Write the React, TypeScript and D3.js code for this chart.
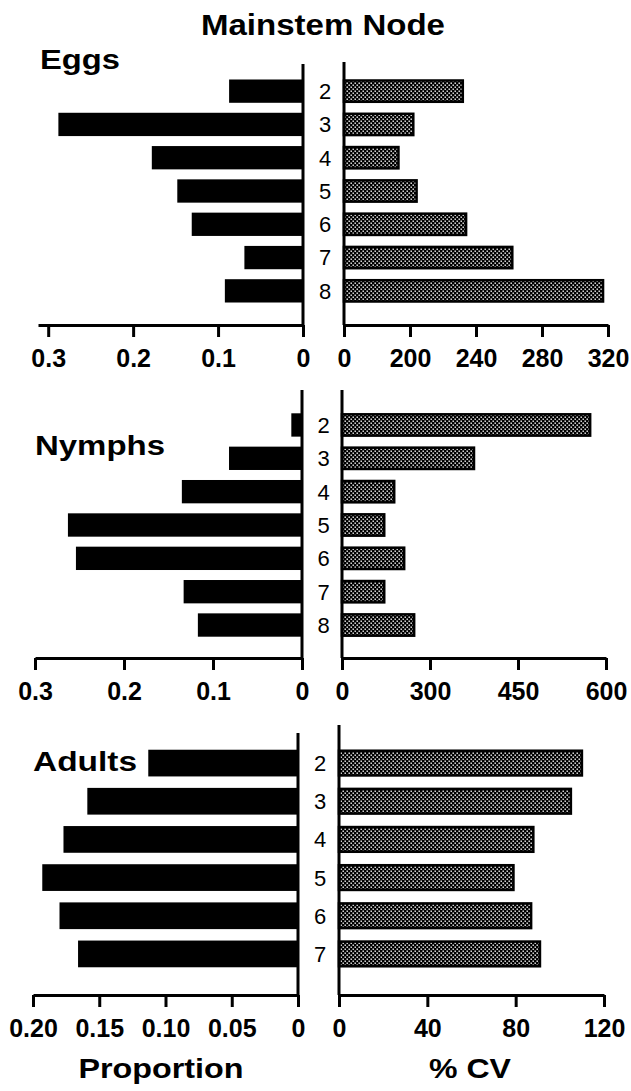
import React, { useEffect, useRef } from 'react';
import * as d3 from 'd3';

// mainstem nodes per stage
const eggNodes = ['2', '3', '4', '5', '6', '7', '8'];
const nymphNodes = ['2', '3', '4', '5', '6', '7', '8'];
const adultNodes = ['2', '3', '4', '5', '6', '7'];

// proportion (black bars, left side)
const eggProportion = [0.087, 0.288, 0.178, 0.148, 0.131, 0.069, 0.092];
const nymphProportion = [0.012, 0.082, 0.135, 0.263, 0.254, 0.133, 0.117];
const adultProportion = [0.113, 0.159, 0.177, 0.193, 0.18, 0.166];

// % CV (dotted bars, right side)
const eggCV = [232, 202, 193, 204, 234, 262, 317];
const nymphCV = [573, 375, 239, 222, 256, 222, 273];
const adultCV = [110, 105, 88, 79, 87, 91];

// tick values + labels (the CV axes for eggs and nymphs are broken, first tick reads 0)
const eggPropTicks = [0, 0.1, 0.2, 0.3];
const eggPropLabels = ['0', '0.1', '0.2', '0.3'];
const nymphPropTicks = [0, 0.1, 0.2, 0.3];
const nymphPropLabels = ['0', '0.1', '0.2', '0.3'];
const adultPropTicks = [0, 0.05, 0.1, 0.15, 0.2];
const adultPropLabels = ['0', '0.05', '0.10', '0.15', '0.20'];

const eggCVTicks = [160, 200, 240, 280, 320];
const eggCVLabels = ['0', '200', '240', '280', '320'];
const nymphCVTicks = [150, 300, 450, 600];
const nymphCVLabels = ['0', '300', '450', '600'];
const adultCVTicks = [0, 40, 80, 120];
const adultCVLabels = ['0', '40', '80', '120'];

const FONT = "'Liberation Sans', Arial, Helvetica, sans-serif";

const panels = [
  {
    name: 'Eggs', nodes: eggNodes, prop: eggProportion, cv: eggCV,
    propDomain: [0, 0.312], cvDomain: [160, 320],
    propTicks: eggPropTicks, propLabels: eggPropLabels, cvTicks: eggCVTicks, cvLabels: eggCVLabels,
    leftRange: [303, 38], rightRange: [344, 608],
    leftTop: 64, rightTop: 62, axisY: 325, band: [74.5, 307.5],
    title: { x: 40, y: 69, w: 80 },
  },
  {
    name: 'Nymphs', nodes: nymphNodes, prop: nymphProportion, cv: nymphCV,
    propDomain: [0, 0.3], cvDomain: [150, 600],
    propTicks: nymphPropTicks, propLabels: nymphPropLabels, cvTicks: nymphCVTicks, cvLabels: nymphCVLabels,
    leftRange: [302, 35], rightRange: [342, 606],
    leftTop: 390, rightTop: 390, axisY: 658, band: [408.3, 641.7],
    title: { x: 35, y: 455, w: 130 },
  },
  {
    name: 'Adults', nodes: adultNodes, prop: adultProportion, cv: adultCV,
    propDomain: [0, 0.2], cvDomain: [0, 120],
    propTicks: adultPropTicks, propLabels: adultPropLabels, cvTicks: adultCVTicks, cvLabels: adultCVLabels,
    leftRange: [298, 33], rightRange: [339, 604],
    leftTop: 733, rightTop: 725, axisY: 995, band: [744, 973],
    title: { x: 33, y: 771, w: 104 },
  },
];

const App = () => {
  const svgRef = useRef(null);

  useEffect(() => {
    const svg = d3.select(svgRef.current);
    svg.selectAll('*').remove();

    const pat = svg.append('defs').append('pattern')
      .attr('id', 'dots')
      .attr('width', 4)
      .attr('height', 4)
      .attr('patternUnits', 'userSpaceOnUse');
    pat.append('rect').attr('width', 4).attr('height', 4).attr('fill', '#000');
    pat.append('rect').attr('x', 0.5).attr('y', 0.5).attr('width', 1.4).attr('height', 1.4).attr('fill', '#fff');
    pat.append('rect').attr('x', 2.5).attr('y', 2.5).attr('width', 1.4).attr('height', 1.4).attr('fill', '#fff');

    svg.append('text')
      .attr('x', 323).attr('y', 35)
      .attr('text-anchor', 'middle')
      .attr('font-family', FONT).attr('font-weight', 'bold').attr('font-size', 30)
      .attr('textLength', 244).attr('lengthAdjust', 'spacingAndGlyphs')
      .text('Mainstem Node');

    panels.forEach((p) => {
      const g = svg.append('g');
      const y = d3.scaleBand()
        .domain(p.nodes)
        .range(p.band)
        .paddingInner(0.3)
        .paddingOuter(0.15);
      const xl = d3.scaleLinear().domain(p.propDomain).range(p.leftRange);
      const xr = d3.scaleLinear().domain(p.cvDomain).range(p.rightRange);
      const x0 = xr(p.cvDomain[0]);

      g.selectAll('.prop')
        .data(p.prop)
        .join('rect')
        .attr('class', 'prop')
        .attr('x', (d) => xl(d))
        .attr('y', (d, i) => y(p.nodes[i]))
        .attr('width', (d) => xl(0) - xl(d))
        .attr('height', y.bandwidth())
        .attr('fill', '#000');

      g.selectAll('.cv')
        .data(p.cv)
        .join('rect')
        .attr('class', 'cv')
        .attr('x', x0)
        .attr('y', (d, i) => y(p.nodes[i]) + 1)
        .attr('width', (d) => xr(d) - x0)
        .attr('height', y.bandwidth() - 2)
        .attr('fill', 'url(#dots)')
        .attr('stroke', '#000')
        .attr('stroke-width', 2.5);

      // vertical axes
      g.append('line')
        .attr('x1', xl(0)).attr('x2', xl(0))
        .attr('y1', p.leftTop).attr('y2', p.axisY)
        .attr('stroke', '#000').attr('stroke-width', 3);
      g.append('line')
        .attr('x1', x0).attr('x2', x0)
        .attr('y1', p.rightTop).attr('y2', p.axisY)
        .attr('stroke', '#000').attr('stroke-width', 3);

      // node labels between the two halves
      g.selectAll('.node')
        .data(p.nodes)
        .join('text')
        .attr('class', 'node')
        .attr('x', (xl(0) + x0) / 2 + 1.5)
        .attr('y', (d) => y(d) + y.bandwidth() / 2)
        .attr('dy', '0.36em')
        .attr('text-anchor', 'middle')
        .attr('font-family', FONT)
        .attr('font-size', 22)
        .text((d) => d);

      const leftAxis = d3.axisBottom(xl)
        .tickValues(p.propTicks)
        .tickFormat((d, i) => p.propLabels[i])
        .tickSize(12).tickSizeOuter(0).tickPadding(12);
      const rightAxis = d3.axisBottom(xr)
        .tickValues(p.cvTicks)
        .tickFormat((d, i) => p.cvLabels[i])
        .tickSize(12).tickSizeOuter(0).tickPadding(12);

      [leftAxis, rightAxis].forEach((ax) => {
        const a = g.append('g').attr('transform', `translate(0, ${p.axisY})`).call(ax);
        a.attr('font-family', FONT).attr('font-size', 25).attr('font-weight', 'bold');
        a.select('.domain').attr('stroke-width', 3);
        a.selectAll('.tick line').attr('stroke-width', 3);
        a.selectAll('.tick text').attr('fill', '#000');
      });

      svg.append('text')
        .attr('x', p.title.x).attr('y', p.title.y)
        .attr('font-family', FONT).attr('font-weight', 'bold').attr('font-size', 28)
        .attr('textLength', p.title.w).attr('lengthAdjust', 'spacingAndGlyphs')
        .text(p.name);
    });

    svg.append('text')
      .attr('x', 161).attr('y', 1078)
      .attr('text-anchor', 'middle')
      .attr('font-family', FONT).attr('font-weight', 'bold').attr('font-size', 28)
      .attr('textLength', 165).attr('lengthAdjust', 'spacingAndGlyphs')
      .text('Proportion');
    svg.append('text')
      .attr('x', 470).attr('y', 1078)
      .attr('text-anchor', 'middle')
      .attr('font-family', FONT).attr('font-weight', 'bold').attr('font-size', 28)
      .attr('textLength', 82).attr('lengthAdjust', 'spacingAndGlyphs')
      .text('% CV');
  }, []);

  return (
    <svg
      ref={svgRef}
      width={631}
      height={1091}
      style={{ position: 'absolute', left: 0, top: 0, background: '#fff' }}
    ></svg>
  );
};

export default App;
